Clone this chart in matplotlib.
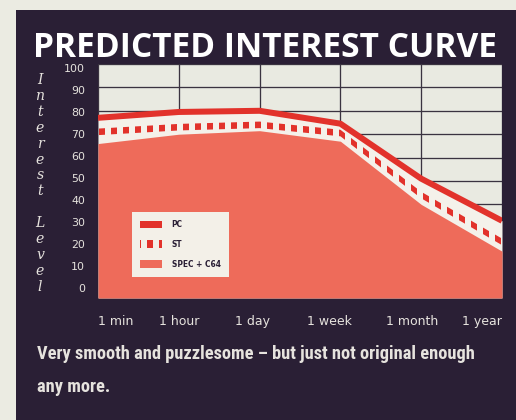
import matplotlib
matplotlib.use("Agg")
import matplotlib.pyplot as plt
from matplotlib.patches import Patch, Rectangle
from matplotlib.transforms import ScaledTranslation
from matplotlib import font_manager

# Interest over time for each machine version
periods = ['1 min', '1 hour', '1 day', '1 week', '1 month', '1 year']
pc_interest = [77, 79.5, 80, 74.5, 51, 33]
st_interest = [71, 73, 74, 70.5, 44, 24]
spec_c64_interest = [66, 70, 71.5, 67, 40, 20]
y_ticks = [0, 10, 20, 30, 40, 50, 60, 70, 80, 90, 100]
series_names = ['PC', 'ST', 'SPEC + C64']

title = 'PREDICTED INTEREST CURVE'
caption_lines = ['Very smooth and puzzlesome \u2013 but just not original enough',
                 'any more.']
y_label = 'Interest Level'

PANEL = '#2a1f35'
PAPER = '#ebebe2'
PLOT_BG = '#e9eae1'
UNDER = '#f4f1ea'
RED = '#e2322b'
SALMON = '#ee6b5a'
INK = '#e6e3de'
GRID = '#3a3340'

plt.rcParams['hatch.linewidth'] = 6.0

installed = {f.name for f in font_manager.fontManager.ttflist}
def pick(*names):
    for n in names:
        if n in installed:
            return n
    return 'DejaVu Sans'

title_font = pick('Open Sans', 'Lato', 'DejaVu Sans')
narrow_font = pick('Liberation Sans Narrow', 'Roboto Condensed', 'DejaVu Sans')

W, H, DPI = 516, 420, 72
fig = plt.figure(figsize=(W / DPI, H / DPI), dpi=DPI, facecolor=PAPER)

# dark panel behind everything
fig.patches.append(Rectangle((16 / W, 0), 1, 1 - 10 / H, transform=fig.transFigure,
                             facecolor=PANEL, edgecolor='none', zorder=-10))

ax = fig.add_axes([98 / W, 1 - 298 / H, 404 / W, 234 / H])
ax.set_zorder(2)
ax.set_facecolor(PLOT_BG)
x = list(range(len(periods)))

ax.set_xlim(0, len(periods) - 1)
ax.set_ylim(0, 100)
ax.set_axisbelow(True)
ax.grid(True, color=GRID, linewidth=1.3)
for s in ax.spines.values():
    s.set_visible(False)

# everything under the PC curve hides the grid
ax.fill_between(x, 0, pc_interest, color=UNDER, linewidth=0, zorder=1)
ax.fill_between(x, 0, spec_c64_interest, color=SALMON, linewidth=0, zorder=2)
st_lo = [v - 1.4 for v in st_interest]
st_hi = [v + 1.4 for v in st_interest]
ax.fill_between(x, st_lo, st_hi, facecolor='none', edgecolor=RED, hatch='|',
                linewidth=0, zorder=3)
ax.plot(x, pc_interest, color=RED, linewidth=6, solid_capstyle='butt',
        solid_joinstyle='round', zorder=4)

ax.set_xticks(x)
ax.set_xticklabels(periods)
ax.set_yticks(y_ticks)
ax.tick_params(axis='x', length=0, pad=17, labelsize=12.5, labelcolor=INK)
ax.tick_params(axis='y', length=0, pad=13, labelsize=11, labelcolor=INK)

# nudge the period names a little to the left, first/last flush with the frame
x_shift_px = [0, 0, -7, -11, -9, 0]
for tick, dx in zip(ax.xaxis.get_major_ticks(), x_shift_px):
    lab = tick.label1
    lab.set_transform(lab.get_transform() +
                      ScaledTranslation(dx / DPI, 0, fig.dpi_scale_trans))
xt = ax.get_xticklabels()
xt[0].set_ha('left')
xt[-1].set_ha('right')

# the value scale is set slightly tighter than the grid
for tick, v in zip(ax.yaxis.get_major_ticks(), y_ticks):
    lab = tick.label1
    dy = 10 - 0.14 * v
    lab.set_transform(lab.get_transform() +
                      ScaledTranslation(0, dy / DPI, fig.dpi_scale_trans))

handles = [Patch(facecolor=RED, edgecolor='none'),
           Patch(facecolor='none', edgecolor=RED, hatch='|', linewidth=0),
           Patch(facecolor=SALMON, edgecolor='none')]
leg = ax.legend(handles, series_names, loc='lower left', bbox_to_anchor=(0.084, 0.09),
                frameon=True, fancybox=False, framealpha=1, facecolor='#f3f0e8',
                edgecolor='none', prop={'size': 7.5, 'weight': 'bold'},
                handlelength=2.9, handleheight=1.2, labelspacing=1.45,
                borderpad=1.1, handletextpad=1.3, borderaxespad=0)
for t in leg.get_texts():
    t.set_color(PANEL)
leg.set_zorder(6)

fig.text(33 / W, 1 - 57 / H, title, color='white', fontsize=33.5,
         fontweight='bold', family=title_font, ha='left', va='baseline')

y0, step = 80, 15.9
for i, ch in enumerate(y_label):
    if ch == ' ':
        continue
    fig.text(40 / W, 1 - (y0 + i * step) / H, ch, color=INK, fontsize=14,
             family='DejaVu Serif', style='italic', ha='center', va='center')

for line, yb in zip(caption_lines, [359, 392]):
    fig.text(37 / W, 1 - yb / H, line, color=INK, fontsize=18.4, fontweight='bold',
             family=[narrow_font, 'DejaVu Sans'], ha='left', va='baseline')

fig.savefig('out.png', dpi=DPI, facecolor=PAPER)
